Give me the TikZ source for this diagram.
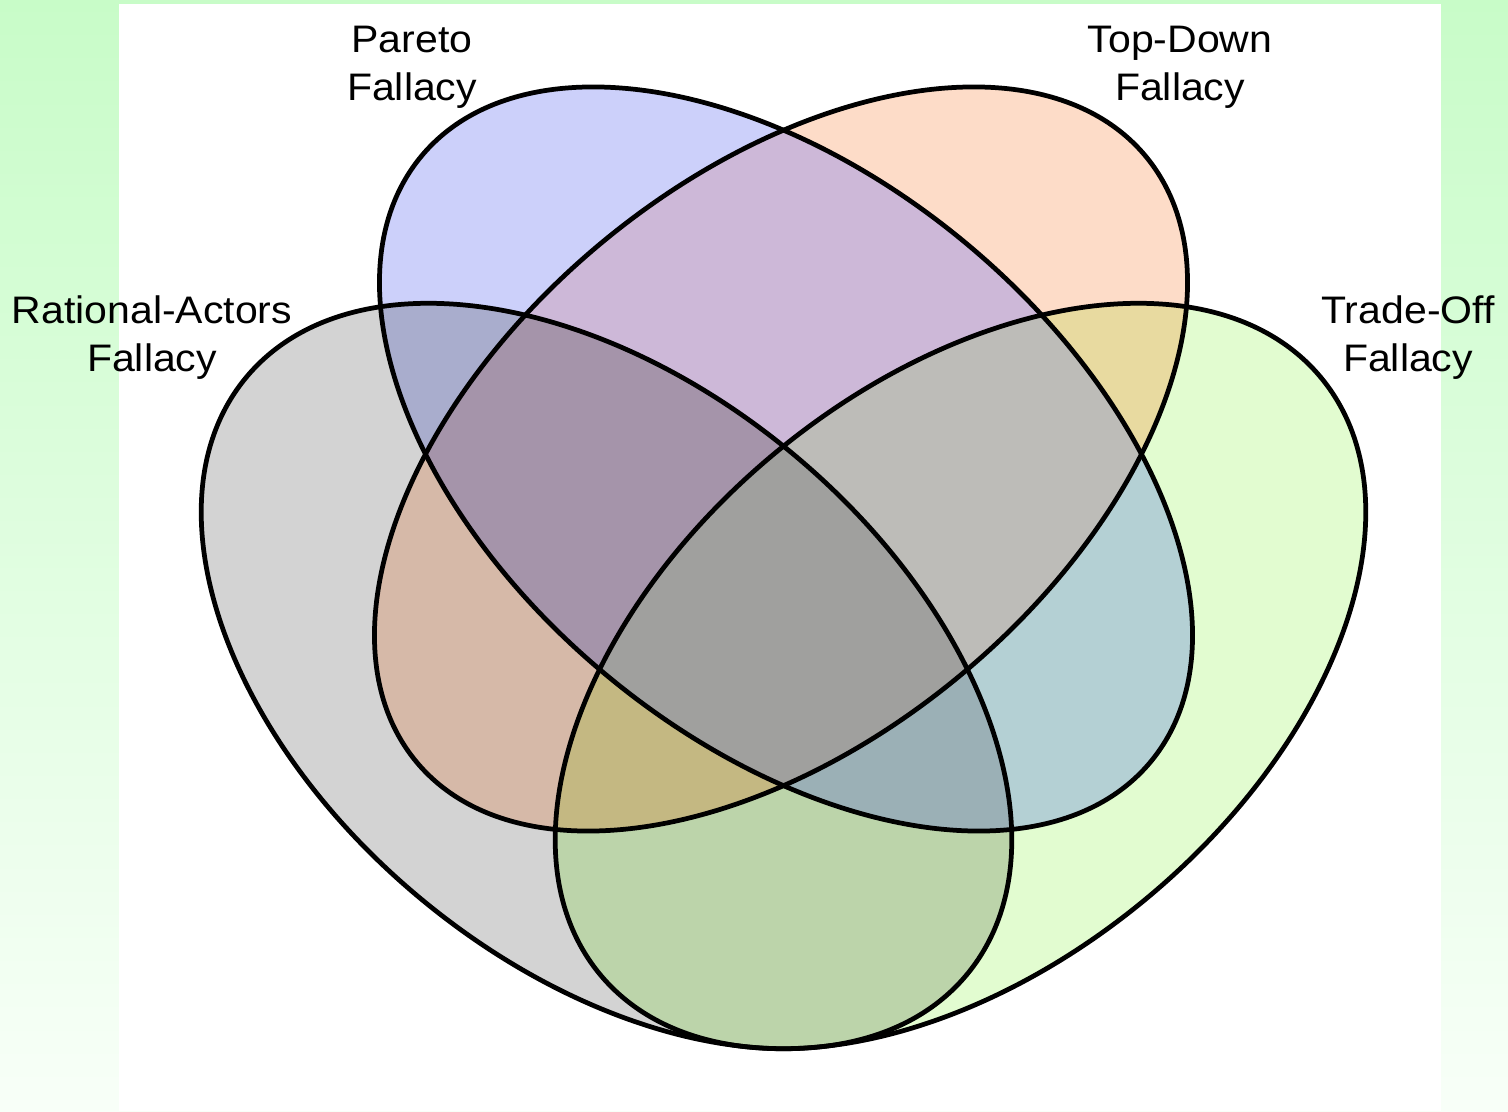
\documentclass[tikz,border=0pt]{standalone}
\usepackage{fontspec}
\setmainfont{Liberation Sans}
\newfontfamily\lblfont[FakeStretch=1.07]{Liberation Sans}
\definecolor{bgtop}{HTML}{C8FCC8}
\definecolor{bgbot}{HTML}{F8FFF8}
% exact-region colours
\definecolor{cB}{HTML}{CCD0FA}
\definecolor{cO}{HTML}{FDDCC8}
\definecolor{cG}{HTML}{D3D3D3}
\definecolor{cN}{HTML}{E2FCD0}
\definecolor{cBO}{HTML}{CDB8D8}
\definecolor{cBG}{HTML}{A9ADCD}
\definecolor{cBN}{HTML}{B4D0D4}
\definecolor{cOG}{HTML}{D6B9A8}
\definecolor{cON}{HTML}{E8DAA0}
\definecolor{cGN}{HTML}{BCD4AA}
\definecolor{cBOG}{HTML}{A594AA}
\definecolor{cBON}{HTML}{BDBCB8}
\definecolor{cBGN}{HTML}{9BB0B6}
\definecolor{cOGN}{HTML}{C4B882}
\definecolor{cAll}{HTML}{A0A09E}
\newcommand\EB{[ellB] (786,652) ellipse [radiiA]}
\newcommand\EO{[ellO] (781,652) ellipse [radiiA]}
\newcommand\EG{[ellG] (606.5,435) ellipse [radiiB]}
\newcommand\EN{[ellN] (960.5,435) ellipse [radiiB]}
\begin{document}
\begin{tikzpicture}[x=0.01cm,y=0.01cm,
  ellB/.style={rotate around={-39.7:(786,652)}},
  ellO/.style={rotate around={39.7:(781,652)}},
  ellG/.style={rotate around={-39.6:(606.5,435)}},
  ellN/.style={rotate around={39.6:(960.5,435)}},
  radiiA/.style={x radius=474, y radius=281},
  radiiB/.style={x radius=468, y radius=290},
  outline/.style={draw=black, line width=1.35pt},
  lbl/.style={align=center, inner sep=0pt, anchor=north,
    font=\lblfont\fontsize{10.9}{13.66}\selectfont}]
\useasboundingbox (0,0) rectangle (1508,1111);
% background
\shade[top color=bgtop, bottom color=bgbot] (0,0) rectangle (1508,1111);
\fill[white] (119,0) rectangle (1441,1107);
% single sets
\fill[cG]\EG;
\fill[cN]\EN;
\fill[cB]\EB;
\fill[cO]\EO;
% pairs
\begin{scope}\clip\EB; \fill[cBO]\EO; \end{scope}
\begin{scope}\clip\EB; \fill[cBG]\EG; \end{scope}
\begin{scope}\clip\EB; \fill[cBN]\EN; \end{scope}
\begin{scope}\clip\EO; \fill[cOG]\EG; \end{scope}
\begin{scope}\clip\EO; \fill[cON]\EN; \end{scope}
\begin{scope}\clip\EG; \fill[cGN]\EN; \end{scope}
% triples
\begin{scope}\clip\EB; \clip\EO; \fill[cBOG]\EG; \end{scope}
\begin{scope}\clip\EB; \clip\EO; \fill[cBON]\EN; \end{scope}
\begin{scope}\clip\EB; \clip\EG; \fill[cBGN]\EN; \end{scope}
\begin{scope}\clip\EO; \clip\EG; \fill[cOGN]\EN; \end{scope}
% all four
\begin{scope}\clip\EB; \clip\EO; \clip\EG; \fill[cAll]\EN; \end{scope}
% outlines
\draw[outline]\EG;
\draw[outline]\EN;
\draw[outline]\EB;
\draw[outline]\EO;
% labels
\node[lbl] (pareto) at (412,1086) {Pareto\\Fallacy};
\node[lbl] (topdown) at (1180,1086) {Top-Down\\Fallacy};
\node[lbl] (rational) at (152,816) {Rational-Actors\\Fallacy};
\node[lbl] (tradeoff) at (1408,816) {Trade-Off\\Fallacy};
\end{tikzpicture}
\end{document}
